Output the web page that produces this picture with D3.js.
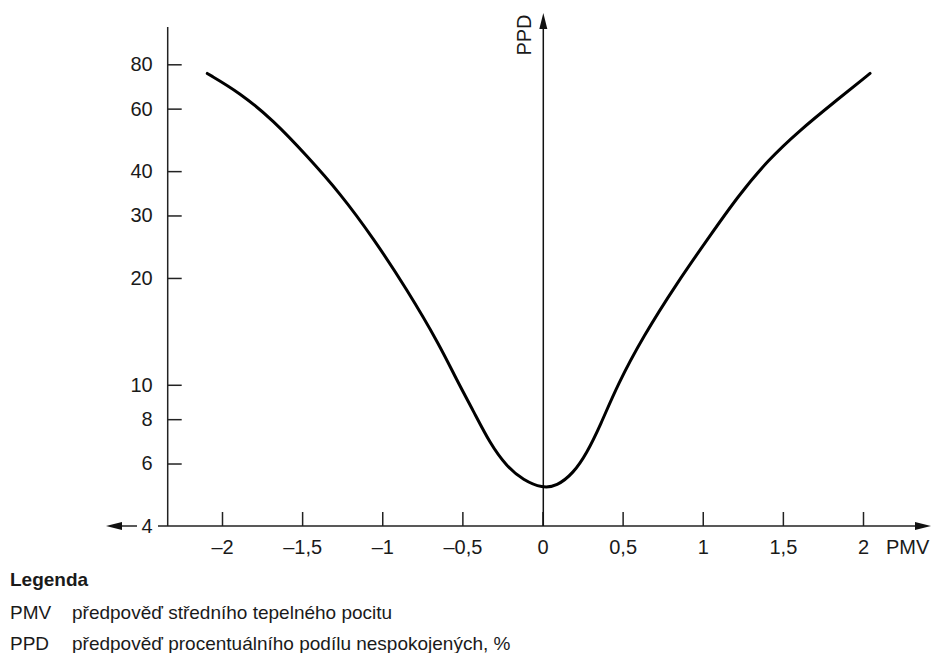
<!DOCTYPE html>
<html>
<head>
<meta charset="utf-8">
<script src="https://cdn.jsdelivr.net/npm/d3@7"></script>
<style>
  body { margin: 0; background: #fff; }
  svg { display: block; font-family: "Liberation Sans", Arial, sans-serif; }
  .tick text { font-size: 20px; fill: #1a1a1a; }
  .tick line { stroke: #222; stroke-width: 1.5; }
</style>
</head>
<body>
<div id="chart"></div>
<script>
// PMV / PPD curve
const pmv = [-2.092, -1.888, -1.68, -1.471, -1.264, -1.056, -0.847, -0.64, -0.535, -0.432, -0.328, -0.223, -0.12, 0,
             0.089, 0.192, 0.276, 0.362, 0.468, 0.629, 0.837, 1.045, 1.22, 1.407, 1.607, 1.815, 2.044];
const ppd = [75.4, 66.5, 55.6, 44.2, 34.7, 25.9, 18.6, 12.9, 10.3, 8.45, 6.84, 5.88, 5.39, 5.11,
             5.18, 5.63, 6.41, 7.7, 10.0, 13.7, 19.3, 26.3, 34.0, 43.0, 52.2, 62.3, 75.4];

const xTicks = [-2, -1.5, -1, -0.5, 0, 0.5, 1, 1.5, 2];
const yTicks = [4, 6, 8, 10, 20, 30, 40, 60, 80];

const legendTitle = 'Legenda';
const legendItems = [
  ['PMV', 'předpověď středního tepelného pocitu'],
  ['PPD', 'předpověď procentuálního podílu nespokojených, %']
];

const width = 932, height = 653;
const axisX = 167.7;   // left axis position

const x = d3.scaleLinear().domain([-2, 2]).range([222, 863]);
const y = d3.scaleLog().domain([4, 80]).range([526, 64.3]);

const svg = d3.select('#chart').append('svg')
  .attr('width', width)
  .attr('height', height);

const fmt = v => (v < 0 ? '–' : '') + String(Math.abs(v)).replace('.', ',');

// left (log) axis, ticks pointing inward
const yAxis = svg.append('g')
  .attr('transform', `translate(${axisX},0)`)
  .call(d3.axisLeft(y).tickValues(yTicks).tickSize(-14).tickPadding(15).tickFormat(d => d));
yAxis.select('.domain').remove();
yAxis.selectAll('.tick').filter(d => d === 4).select('line').remove();

svg.append('line')
  .attr('x1', axisX).attr('x2', axisX)
  .attr('y1', 27).attr('y2', y(4))
  .attr('stroke', '#222').attr('stroke-width', 1.5);

// bottom axis
const y0 = y(4);
const xAxis = svg.append('g')
  .attr('transform', `translate(0,${y0})`)
  .call(d3.axisBottom(x).tickValues(xTicks).tickSize(-14).tickPadding(14).tickFormat(fmt));
xAxis.select('.domain').remove();

svg.append('line')
  .attr('x1', 158).attr('x2', 920)
  .attr('y1', y0).attr('y2', y0)
  .attr('stroke', '#222').attr('stroke-width', 1.5);
// right arrow head
svg.append('path')
  .attr('d', `M931,${y0} L915,${y0 - 4} L915,${y0 + 4} Z`)
  .attr('fill', '#111');

// left arrow, detached from the axis
svg.append('line')
  .attr('x1', 118).attr('x2', 137)
  .attr('y1', y0).attr('y2', y0)
  .attr('stroke', '#222').attr('stroke-width', 1.5);
svg.append('path')
  .attr('d', `M106,${y0} L122,${y0 - 4} L122,${y0 + 4} Z`)
  .attr('fill', '#111');

svg.append('text')
  .attr('x', 886).attr('y', y0 + 28)
  .attr('font-size', 20).attr('fill', '#1a1a1a')
  .text('PMV');

// vertical PPD axis at PMV = 0
const xz = x(0) + 0.8;
svg.append('line')
  .attr('x1', xz).attr('x2', xz)
  .attr('y1', 26).attr('y2', y0)
  .attr('stroke', '#111').attr('stroke-width', 1.5);
svg.append('path')
  .attr('d', `M${xz},13 L${xz - 4},29 L${xz + 4},29 Z`)
  .attr('fill', '#111');
svg.append('text')
  .attr('transform', `translate(${xz - 12},35) rotate(-90)`)
  .attr('text-anchor', 'middle')
  .attr('font-size', 20).attr('fill', '#1a1a1a')
  .text('PPD');

// the curve
const line = d3.line()
  .x(d => x(d[0]))
  .y(d => y(d[1]))
  .curve(d3.curveBasis);

svg.append('path')
  .datum(pmv.map((v, i) => [v, ppd[i]]))
  .attr('d', line)
  .attr('fill', 'none')
  .attr('stroke', '#000')
  .attr('stroke-width', 3)
  .attr('stroke-linecap', 'round');

// legend
svg.append('text')
  .attr('x', 10).attr('y', 586)
  .attr('font-size', 19).attr('font-weight', 'bold').attr('fill', '#1a1a1a')
  .text(legendTitle);

legendItems.forEach((item, i) => {
  const yy = 619 + i * 31;
  svg.append('text')
    .attr('x', 10).attr('y', yy)
    .attr('font-size', 19).attr('fill', '#1a1a1a')
    .text(item[0]);
  svg.append('text')
    .attr('x', 72).attr('y', yy)
    .attr('font-size', 19).attr('fill', '#1a1a1a')
    .text(item[1]);
});
</script>
</body>
</html>
